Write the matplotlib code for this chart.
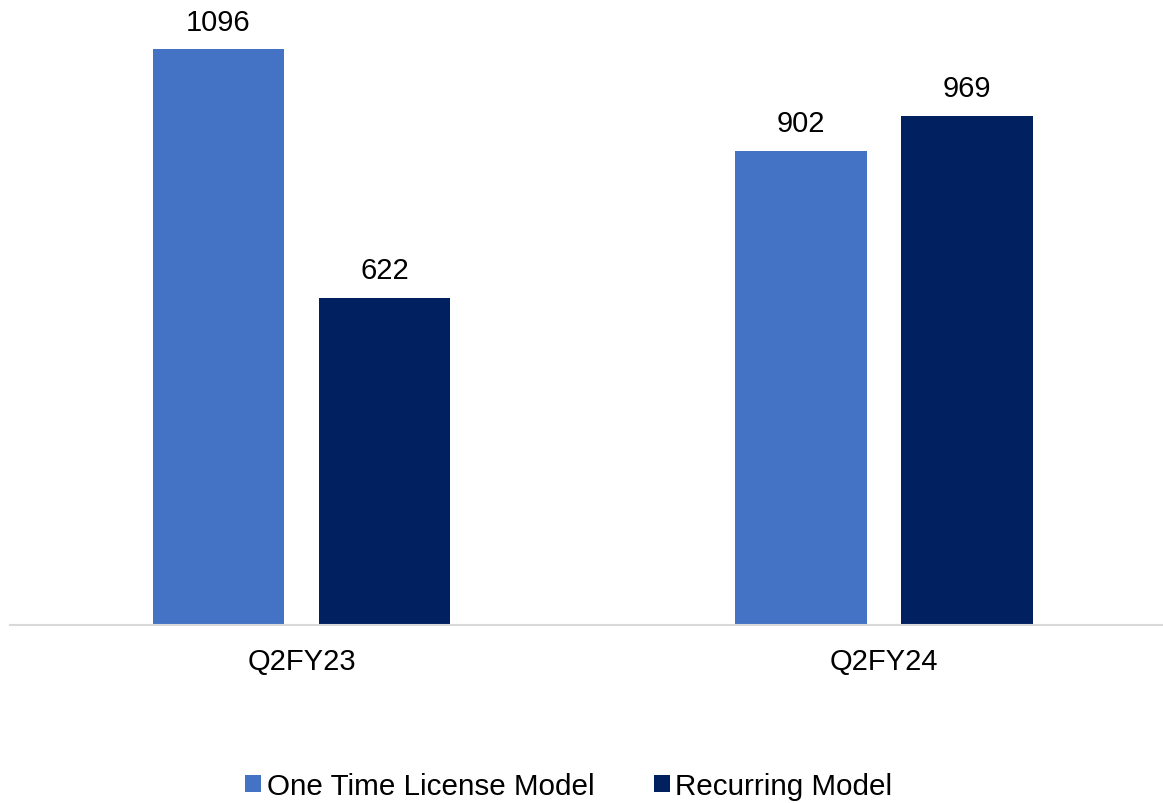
import matplotlib
matplotlib.use("Agg")
import matplotlib.pyplot as plt
import numpy as np

plt.rcParams['font.family'] = ['Liberation Sans', 'DejaVu Sans']

categories = ["Q2FY23", "Q2FY24"]
series_names = ["One Time License Model", "Recurring Model"]
one_time = [1096, 902]
recurring = [622, 969]

colors = ["#4472C4", "#002060"]

fig = plt.figure(figsize=(11.63, 8.04), dpi=100)
ax = fig.add_axes([10 / 1163, 178 / 804, 1153 / 1163, 626 / 804])

x = np.arange(len(categories))
width = 0.225
offset = 0.1425

for vals, name, col, sgn in [(one_time, series_names[0], colors[0], -1),
                             (recurring, series_names[1], colors[1], 1)]:
    bars = ax.bar(x + sgn * offset, vals, width, color=col, label=name, zorder=2)
    for b, v in zip(bars, vals):
        ax.annotate(f"{v}", (b.get_x() + b.get_width() / 2, v),
                    xytext=(0, 10), textcoords="offset points",
                    ha="center", va="bottom", fontsize=21, color="black")

ax.set_xlim(-0.5004, 1.479)
ax.set_ylim(0, 1192)
ax.set_xticks(x)
ax.set_xticklabels(categories, fontsize=21)
ax.tick_params(axis="x", length=0, pad=16)
ax.set_yticks([])
for side in ["left", "right", "top"]:
    ax.spines[side].set_visible(False)
ax.spines["bottom"].set_color("#D9D9D9")
ax.spines["bottom"].set_linewidth(1.5)
ax.spines["bottom"].set_zorder(3)

fig.legend(loc="center", bbox_to_anchor=(0.489, 0.021), ncol=2, frameon=False,
           fontsize=21.3, handlelength=0.54, handleheight=0.54, handletextpad=0.2,
           columnspacing=2.0, borderpad=0)

fig.savefig("out.png", dpi=100)
